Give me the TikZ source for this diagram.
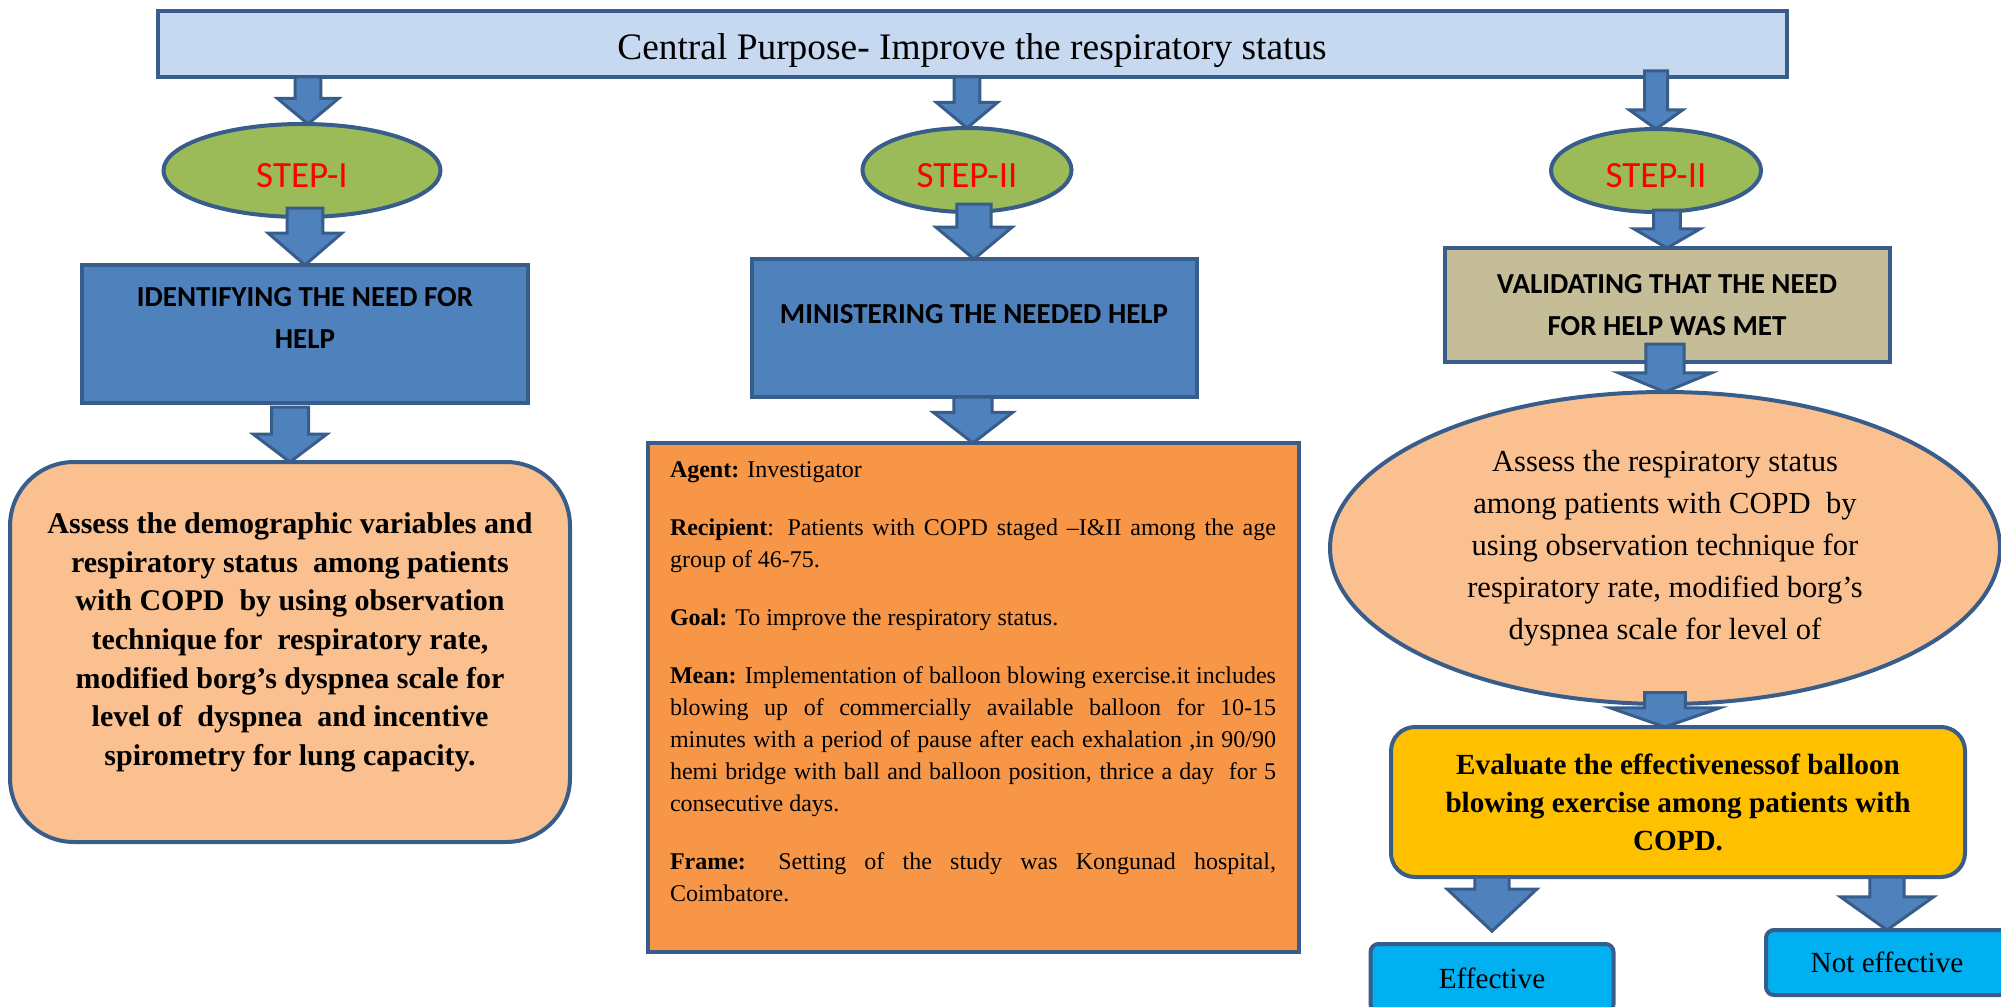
\documentclass[tikz,border=0pt]{standalone}
\usepackage{fontspec}
\setmainfont{Liberation Serif}
\newfontfamily\calibri{Carlito}
\usetikzlibrary{positioning,calc,shapes.geometric}

\definecolor{edgeblue}{HTML}{385D8A}
\definecolor{centralfill}{HTML}{C6D9F1}
\definecolor{stepgreen}{HTML}{9BBB59}
\definecolor{phaseblue}{HTML}{4F81BD}
\definecolor{validtan}{HTML}{C4BD97}
\definecolor{assesspeach}{HTML}{FAC090}
\definecolor{planorange}{HTML}{F79646}
\definecolor{evalyellow}{HTML}{FFC000}
\definecolor{outcyan}{HTML}{00B0F0}

\tikzset{
  base/.style={draw=edgeblue, line width=2pt, inner sep=0pt, outer sep=0pt, align=center},
  purpose/.style={base, fill=centralfill, minimum width=814.5pt, minimum height=33pt,
    text height=20pt, text depth=4pt, font=\fontsize{18.7}{22}\selectfont},
  stepell/.style={base, ellipse, fill=stepgreen, text=red, text height=17pt, text depth=0pt,
    font=\calibri\fontsize{18.5}{22}\selectfont},
  phasebox/.style={base, fill=phaseblue, minimum width=223pt,
    font=\calibri\bfseries\fontsize{14.5}{21}\selectfont},
  assessbox/.style={base, fill=assesspeach, rounded corners=32pt, minimum width=280pt,
    minimum height=190pt, font=\bfseries\fontsize{15}{19.35}\selectfont},
  planbox/.style={base, fill=planorange, minimum width=325.5pt, minimum height=254.5pt,
    text width=303pt, align=justify, font=\fontsize{12}{15.9}\selectfont},
  reassessell/.style={base, ellipse, fill=assesspeach, minimum width=335pt,
    minimum height=156pt, font=\fontsize{15.3}{21}\selectfont},
  evalbox/.style={base, fill=evalyellow, rounded corners=12pt, minimum width=287pt,
    minimum height=75pt, font=\bfseries\fontsize{14.6}{19}\selectfont},
  outcome/.style={base, fill=outcyan, rounded corners=4pt, minimum width=121.5pt,
    minimum height=34pt, font=\fontsize{14.6}{18}\selectfont},
  blockarr/.style={draw=edgeblue, line width=1.5pt, fill=phaseblue, line join=miter},
}

% block arrow: from, to, shaft width, head width, head length
\newcommand{\bigarrow}[5]{%
  \draw[blockarr] let \p1=(#1), \p2=(#2) in
    (\x2-#3/2,\y1) -- (\x2-#3/2,\y2+#5) -- (\x2-#4/2,\y2+#5) -- (\x2,\y2)
    -- (\x2+#4/2,\y2+#5) -- (\x2+#3/2,\y2+#5) -- (\x2+#3/2,\y1) -- cycle;}

\begin{document}
\begin{tikzpicture}

    \useasboundingbox (0,0) rectangle (1000.5pt,-503pt);
    \clip (0,0) rectangle (1000.5pt,-503pt);

    %nodes
    \node[purpose] (top) at (486pt,-22pt) {Central Purpose- Improve the respiratory status};

    \node[stepell, minimum width=138.5pt, minimum height=46.5pt, below=23.5pt of top, xshift=-335pt] (step1) {STEP-I};
    \node[stepell, minimum width=104.5pt, minimum height=42pt, below=25.5pt of top, xshift=-2.5pt] (step2) {STEP-II};
    \node[stepell, minimum width=105pt, minimum height=41.5pt, below=26pt of top, xshift=342pt] (step3) {STEP-II};

    \node[phasebox, minimum height=69pt, below=24pt of step1, xshift=1.5pt] (identify) {IDENTIFYING THE NEED FOR\\HELP\\[-5pt]~};
    \node[phasebox, minimum width=222.5pt, minimum height=69pt, below=23.5pt of step2, xshift=3.5pt] (minister) {MINISTERING THE NEEDED HELP\\[-7pt]~};
    \node[phasebox, fill=validtan, minimum width=222.5pt, minimum height=57pt, below=18pt of step3, xshift=5.5pt] (validate) {VALIDATING THAT THE NEED\\FOR HELP WAS MET};

    \node[assessbox, below=29.5pt of identify, xshift=-7.5pt] (assess)
      {Assess the demographic variables and\\respiratory status\ \ among patients\\with COPD\ \ by using observation\\technique for\ \ respiratory rate,\\modified borg’s dyspnea scale for\\level of\ \ dyspnea\ \ and incentive\\spirometry for lung capacity.\\[-6.5pt]~};

    \node[planbox, below=23pt of minister, xshift=-0.5pt] (plan)
      {\setlength{\parindent}{0pt}\setlength{\parskip}{13.2pt}%
       \textbf{Agent:} Investigator\par
       \textbf{Recipient}: Patients with COPD staged –I\&II among the age\linebreak group of 46-75.\par
       \textbf{Goal:} To improve the respiratory status.\par
       \textbf{Mean:} Implementation of balloon blowing exercise.it includes\linebreak blowing up of commercially available balloon for 10-15\linebreak minutes with a period of pause after each exhalation ,in 90/90\linebreak hemi bridge with ball and balloon position, thrice a day\ \ for 5\linebreak consecutive days.\par
       \textbf{Frame:} Setting of the study was Kongunad hospital,\linebreak Coimbatore.\par
       \vspace{16pt}\hrule height 0pt width 0pt};

    \node[reassessell, below=15pt of validate, xshift=-1pt] (reassess)
      {Assess the respiratory status\\among patients with COPD\ \ by\\using observation technique for\\respiratory rate, modified borg’s\\dyspnea scale for level of};

    \node[evalbox, below=11.5pt of reassess, xshift=6.5pt] (evaluate)
      {Evaluate the effectivenessof balloon\\blowing exercise among patients with\\COPD.};

    \node[outcome, below=33.5pt of evaluate, xshift=-93pt] (eff) {Effective};
    \node[outcome, minimum width=121pt, minimum height=32.5pt, below=26.5pt of evaluate, xshift=104.5pt] (noteff) {Not effective};

    % edges
    \bigarrow{top.south}{[xshift=3pt]step1.north}{12.8pt}{30.6pt}{12.8pt}
    \bigarrow{top.south}{step2.north}{12.8pt}{30.6pt}{12.8pt}
    \bigarrow{[yshift=3pt]top.south}{step3.north}{11.5pt}{26.8pt}{9.6pt}
    \bigarrow{[yshift=4.5pt]step1.south}{identify.north}{17.9pt}{37pt}{16pt}
    \bigarrow{[yshift=4pt]step2.south}{minister.north}{17.2pt}{38.3pt}{16pt}
    \bigarrow{[yshift=1pt]step3.south}{validate.north}{13.4pt}{33.2pt}{9.6pt}
    \bigarrow{[yshift=-2pt]identify.south}{assess.north}{18.5pt}{37pt}{14pt}
    \bigarrow{minister.south}{plan.north}{19.1pt}{39.6pt}{15.3pt}
    \bigarrow{[yshift=9pt]validate.south}{reassess.north}{19.1pt}{46.6pt}{9.6pt}
    \bigarrow{[yshift=5.7pt]reassess.south}{reassess.south |- evaluate.north}{20.4pt}{54.9pt}{9.6pt}
    \bigarrow{evaluate.south}{[yshift=6.4pt]eff.north}{17.2pt}{44.7pt}{21pt}
    \bigarrow{evaluate.south}{noteff.north}{17.2pt}{46.6pt}{16.6pt}

\end{tikzpicture}
\end{document}
